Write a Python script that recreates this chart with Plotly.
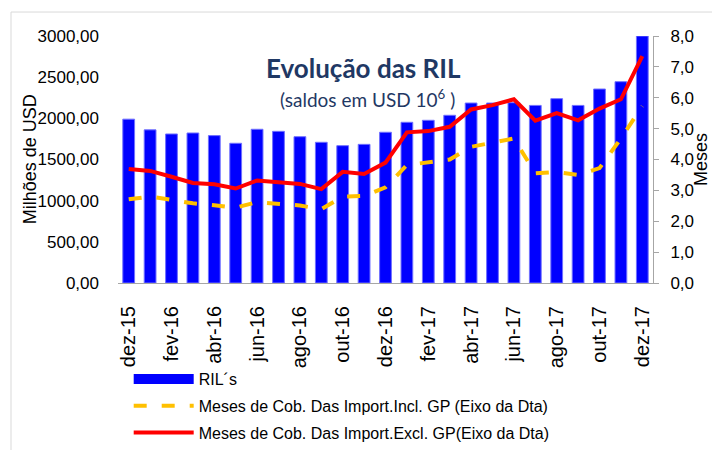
import plotly.graph_objects as go

months = ["dez-15", "jan-16", "fev-16", "mar-16", "abr-16", "mai-16", "jun-16",
          "jul-16", "ago-16", "set-16", "out-16", "nov-16", "dez-16", "jan-17",
          "fev-17", "mar-17", "abr-17", "mai-17", "jun-17", "jul-17", "ago-17",
          "set-17", "out-17", "nov-17", "dez-17"]
ril = [1990, 1860, 1810, 1822, 1790, 1697, 1867, 1842, 1777, 1709, 1668, 1684,
       1831, 1952, 1976, 2037, 2186, 2186, 2190, 2157, 2239, 2157, 2356, 2445, 3000]
meses_incl = [2.71, 2.80, 2.69, 2.58, 2.52, 2.44, 2.62, 2.56, 2.51, 2.39, 2.80, 2.82,
              3.10, 3.82, 3.92, 4.00, 4.41, 4.54, 4.68, 3.55, 3.59, 3.50, 3.72, 4.68, 5.73]
meses_excl = [3.69, 3.63, 3.44, 3.24, 3.20, 3.06, 3.32, 3.25, 3.21, 3.04, 3.60, 3.53,
              3.90, 4.88, 4.92, 5.06, 5.62, 5.76, 5.95, 5.26, 5.50, 5.27, 5.65, 5.95, 7.35]
tick_labels = months[::2]

navy = "#1F3864"
blue = "#0000FF"
tick_font = dict(family="Liberation Sans, Arial", size=17, color="#000000")

fig = go.Figure()
fig.add_trace(go.Bar(
    x=months, y=ril, name="RIL´s",
    marker=dict(color=blue, line=dict(color="#7070FF", width=1)),
    showlegend=False,
))
# legend entry for the bars (wide rectangle like the reference)
fig.add_trace(go.Scatter(
    x=[None], y=[None], mode="lines", name="RIL´s",
    line=dict(color=blue, width=10), legendgroup="a",
))
fig.add_trace(go.Scatter(
    x=months, y=meses_incl, yaxis="y2", mode="lines",
    name="Meses de Cob. Das Import.Incl. GP (Eixo da Dta)",
    line=dict(color="#FFC000", width=4, dash="13px,15px"),
    legendgroup="b",
))
fig.add_trace(go.Scatter(
    x=months, y=meses_excl, yaxis="y2", mode="lines",
    name="Meses de Cob. Das Import.Excl. GP(Eixo da Dta)",
    line=dict(color="#FF0000", width=4),
    legendgroup="c",
))

fig.update_layout(
    width=712, height=450, autosize=False,
    margin=dict(l=118, r=59, t=36, b=167, pad=0, autoexpand=False),
    paper_bgcolor="white", plot_bgcolor="white",
    separators=",.",
    bargap=0.45,
    showlegend=True,
    legend=dict(
        x=0.02, y=-0.32, xanchor="left", yanchor="top",
        orientation="v", traceorder="grouped", tracegroupgap=3,
        font=dict(family="Liberation Sans, Arial", size=16, color="#000000"),
        itemwidth=60, bgcolor="rgba(0,0,0,0)",
    ),
    xaxis=dict(
        type="category", tickmode="array", tickvals=tick_labels, ticktext=tick_labels,
        tickangle=-90, tickfont=dict(family="Liberation Sans, Arial", size=20, color="#000000"),
        showline=True, linecolor="#A6A6A6", linewidth=1, ticks="", showgrid=False,
        zeroline=False, ticklabelstandoff=14, automargin=False,
    ),
    yaxis=dict(
        range=[0, 3000], tickmode="linear", tick0=0, dtick=500, tickformat=".2f",
        tickfont=tick_font, showgrid=False, zeroline=False, showline=False,
        ticks="", ticklabelstandoff=18, automargin=False,
    ),
    yaxis2=dict(
        range=[0, 8], tickmode="linear", tick0=0, dtick=1, tickformat=".1f",
        overlaying="y", side="right", tickfont=dict(family="Liberation Sans, Arial", size=17, color="#000000"),
        showgrid=False, zeroline=False, showline=True, linecolor="#A6A6A6",
        linewidth=1, ticks="outside", ticklen=5, tickcolor="#A6A6A6",
        ticklabelstandoff=8, automargin=False,
    ),
    annotations=[
        dict(text="<b>Evolução das RIL</b>", x=0.458, y=0.87, xref="paper", yref="paper",
             xanchor="center", yanchor="middle", showarrow=False,
             font=dict(family="Lato, Open Sans", size=26, color=navy)),
        dict(text="(saldos em USD 10<sup>6</sup> )", x=0.466, y=0.745, xref="paper", yref="paper",
             xanchor="center", yanchor="middle", showarrow=False,
             font=dict(family="Lato, Open Sans", size=19, color=navy)),
        dict(text="Milhões de USD", x=-0.165, y=0.5, xref="paper", yref="paper",
             xanchor="center", yanchor="middle", textangle=-90, showarrow=False,
             font=dict(family="Liberation Sans, Arial", size=18, color="#000000")),
        dict(text="Meses", x=1.089, y=0.5, xref="paper", yref="paper",
             xanchor="center", yanchor="middle", textangle=-90, showarrow=False,
             font=dict(family="Liberation Sans, Arial", size=18, color="#000000")),
    ],
    shapes=[
        dict(type="line", xref="paper", yref="paper", x0=-0.2, x1=-0.2, y0=1.097, y1=-0.7,
             line=dict(color="#D9D9D9", width=1)),
        dict(type="line", xref="paper", yref="paper", x0=-0.2, x1=1.2, y0=1.097, y1=1.097,
             line=dict(color="#D9D9D9", width=1)),
    ],
)

fig.write_html("out.html", config={"displayModeBar": False},
               post_script="document.body.style.margin='0';document.body.style.padding='0';")
